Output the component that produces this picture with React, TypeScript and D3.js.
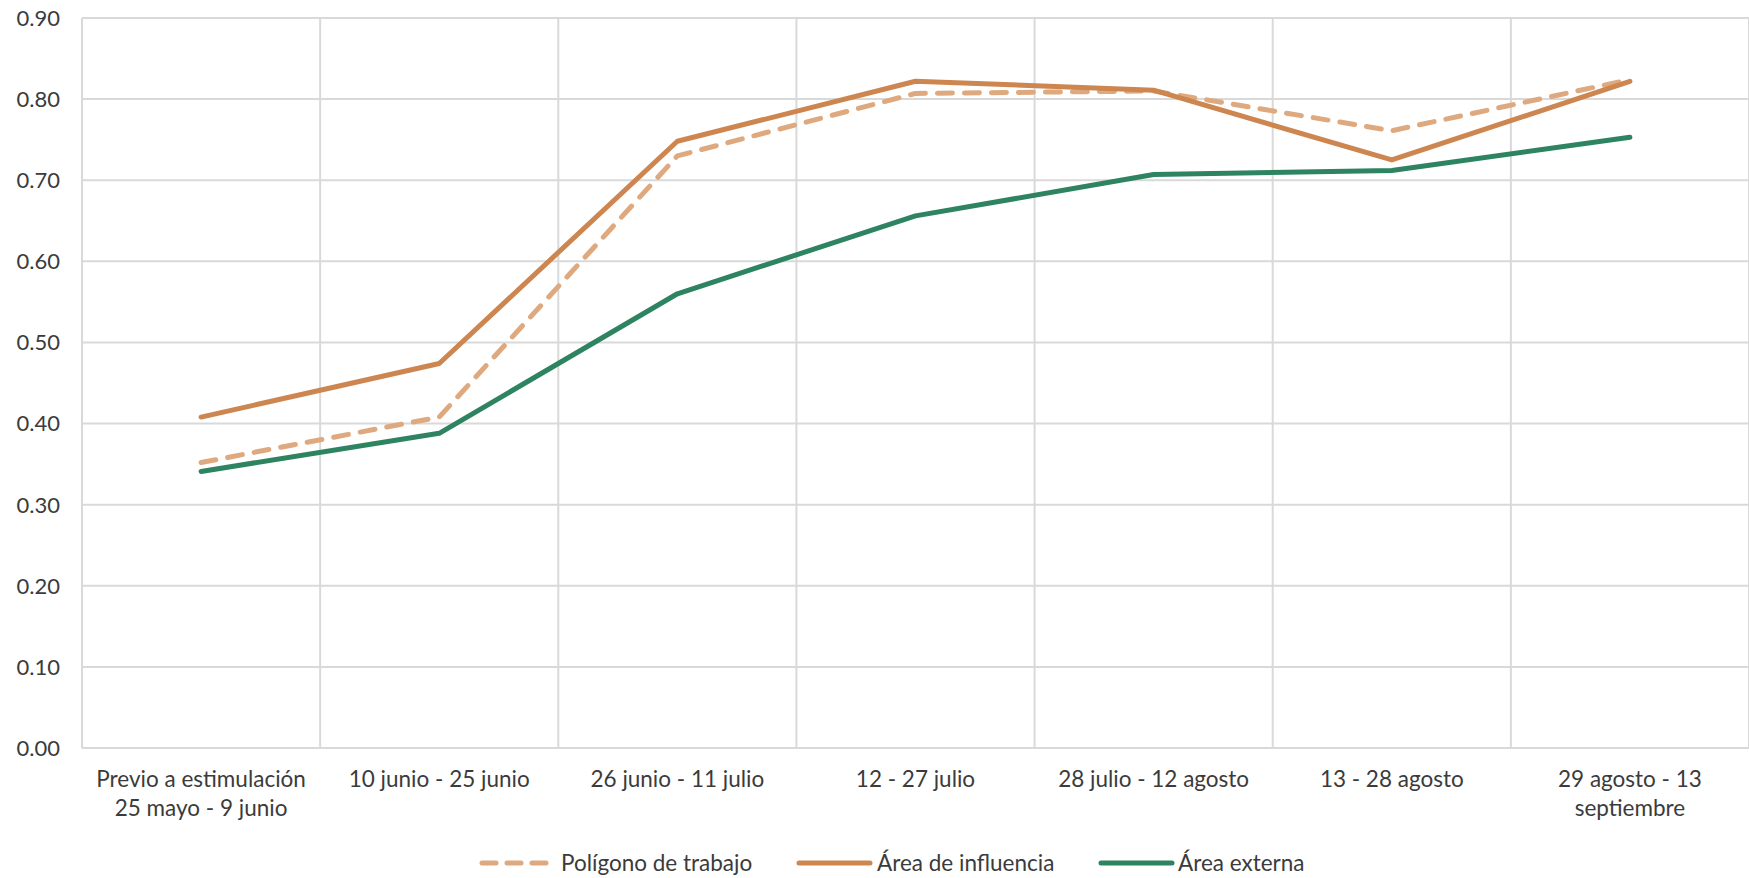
import React from 'react'
import * as d3 from 'd3'

const width = 1749
const height = 878
const margin = { top: 18, right: 0, bottom: 130, left: 82 }

// categories, one array per label (line breaks as in the source)
const categories = [
  ['Previo a estimulación', '25 mayo - 9 junio'],
  ['10 junio - 25 junio'],
  ['26 junio - 11 julio'],
  ['12 - 27 julio'],
  ['28 julio - 12 agosto'],
  ['13 - 28 agosto'],
  ['29 agosto - 13', 'septiembre'],
]
const poligono = [0.352, 0.408, 0.730, 0.807, 0.810, 0.761, 0.824]
const influencia = [0.408, 0.474, 0.748, 0.822, 0.811, 0.725, 0.822]
const externa = [0.341, 0.388, 0.560, 0.656, 0.707, 0.712, 0.753]
const yTicks = [0, 0.1, 0.2, 0.3, 0.4, 0.5, 0.6, 0.7, 0.8, 0.9]

const series = [
  { name: 'Polígono de trabajo', values: poligono, color: '#DEA97F', dash: '15 12' },
  { name: 'Área de influencia', values: influencia, color: '#CD8650', dash: null },
  { name: 'Área externa', values: externa, color: '#2E8360', dash: null },
]

const font = 'Lato, "Noto Sans", sans-serif'
const textColor = '#3b3b3b'
const gridColor = '#d9d9d9'

export default function App() {
  const x = d3.scaleBand<number>()
    .domain(d3.range(categories.length))
    .range([margin.left, width - margin.right])
  const y = d3.scaleLinear()
    .domain([0, 0.9])
    .range([height - margin.bottom, margin.top])
  const line = d3.line<number>()
    .x((d, i) => (x(i) as number) + x.bandwidth() / 2)
    .y(d => y(d))
  const fmt = d3.format('.2f')

  // legend layout
  const legendY = 863
  const legendItems = [
    { x0: 482, x1: 550, tx: 561 },
    { x0: 799, x1: 870, tx: 877 },
    { x0: 1101, x1: 1172, tx: 1178 },
  ]

  return (
    <svg width={width} height={height} style={{ position: 'absolute', left: 0, top: 0, background: '#fff' }}>
      {/* horizontal grid */}
      {yTicks.map(t => (
        <line key={'h' + t} x1={margin.left} x2={width} y1={y(t)} y2={y(t)} stroke={gridColor} strokeWidth={2} />
      ))}
      {/* vertical grid at category borders */}
      {d3.range(categories.length + 1).map(i => {
        const xx = i < categories.length ? (x(i) as number) : width - margin.right
        return <line key={'v' + i} x1={xx} x2={xx} y1={y(0.9)} y2={y(0)} stroke={gridColor} strokeWidth={2} />
      })}
      {/* y labels */}
      {yTicks.map(t => (
        <text key={'yl' + t} x={60} y={y(t)} dy="0.36em" textAnchor="end" fontFamily={font} fontSize={22} fill={textColor}>
          {fmt(t)}
        </text>
      ))}
      {/* x labels */}
      {categories.map((lines, i) => (
        <text key={'xl' + i} x={(x(i) as number) + x.bandwidth() / 2} y={787} textAnchor="middle" fontFamily={font} fontSize={22.5} fill={textColor}>
          {lines.map((l, j) => (
            <tspan key={j} x={(x(i) as number) + x.bandwidth() / 2} dy={j === 0 ? 0 : 29}>{l}</tspan>
          ))}
        </text>
      ))}
      {/* lines */}
      {series.map(s => (
        <path key={s.name} d={line(s.values) || ''} fill="none" stroke={s.color} strokeWidth={5}
          strokeDasharray={s.dash || undefined} strokeLinecap="round" strokeLinejoin="round" />
      ))}
      {/* legend */}
      {series.map((s, i) => (
        <g key={'lg' + i}>
          <line x1={legendItems[i].x0} x2={legendItems[i].x1} y1={legendY} y2={legendY} stroke={s.color} strokeWidth={5}
            strokeDasharray={s.dash ? '14 11' : undefined} strokeLinecap="round" />
          <text x={legendItems[i].tx} y={legendY} dy="0.36em" fontFamily={font} fontSize={22.5} fill={textColor}>{s.name}</text>
        </g>
      ))}
    </svg>
  )
}
